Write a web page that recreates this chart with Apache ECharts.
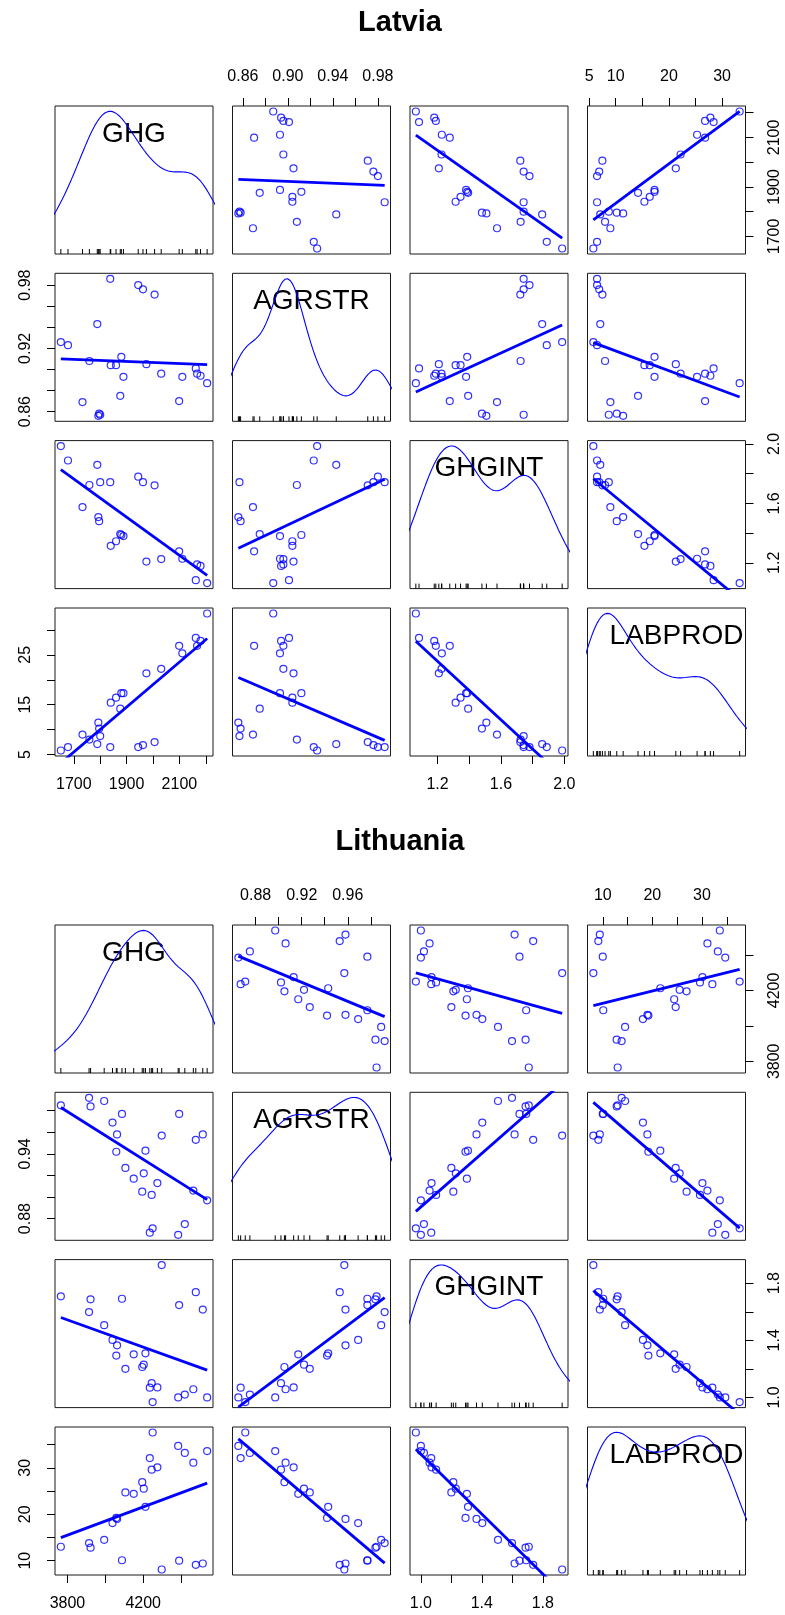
<!DOCTYPE html>
<html>
<head>
<meta charset="utf-8">
<title>Latvia / Lithuania scatterplot matrices</title>
<script src="https://cdn.jsdelivr.net/npm/echarts@6.0.0/dist/echarts.min.js"></script>
<style>
  html, body { margin: 0; padding: 0; background: #fff; }
  #chart { width: 785px; height: 1615px; }
</style>
</head>
<body>
<div id="chart"></div>
<script>
const varNames = ['GHG', 'AGRSTR', 'GHGINT', 'LABPROD'];

// Latvia, one value per year
const latviaGHG = [2205, 2180, 2162, 2167, 2111, 2099, 2031, 1975, 1888, 1880, 1860, 1840, 1876, 1793, 1796, 1800, 1789, 1838, 1944, 1962, 2006, 1759, 1733, 1678, 1651];
const latviaAGRSTR = [0.887, 0.894, 0.901, 0.896, 0.893, 0.870, 0.896, 0.905, 0.893, 0.912, 0.904, 0.904, 0.875, 0.856, 0.858, 0.857, 0.943, 0.986, 0.980, 0.976, 0.971, 0.908, 0.869, 0.923, 0.926];
const latviaGHGINT = [1.063, 1.179, 1.083, 1.189, 1.227, 1.277, 1.225, 1.208, 1.380, 1.387, 1.345, 1.314, 1.393, 1.508, 1.480, 1.743, 1.860, 1.743, 1.780, 1.743, 1.722, 1.724, 1.575, 1.889, 1.986];
const latviaLABPROD = [33.3, 27.8, 28.4, 26.8, 25.3, 26.8, 22.2, 21.3, 17.3, 17.3, 16.4, 15.4, 14.2, 11.4, 10.2, 8.7, 7.1, 6.5, 6.5, 6.9, 7.5, 8.0, 9.0, 6.5, 5.8];

// Lithuania
const lithuaniaGHG = [4250, 4385, 4420, 4538, 4465, 4235, 4245, 4275, 4195, 4203, 4106, 4150, 4212, 4058, 4062, 4038, 3994, 3914, 3922, 3765, 4088, 4390, 4298, 4478, 4515];
const lithuaniaAGRSTR = [0.871, 0.865, 0.875, 0.897, 0.906, 0.867, 0.902, 0.913, 0.905, 0.922, 0.927, 0.917, 0.943, 0.942, 0.958, 0.969, 0.989, 0.992, 0.984, 0.985, 0.977, 0.977, 0.957, 0.953, 0.958];
const lithuaniaGHGINT = [0.967, 1.000, 1.020, 1.000, 1.057, 1.068, 1.100, 1.070, 1.213, 1.229, 1.200, 1.302, 1.309, 1.293, 1.365, 1.403, 1.506, 1.598, 1.687, 1.708, 1.691, 1.647, 1.927, 1.737, 1.615];
const lithuaniaLABPROD = [37.6, 34.7, 33.2, 33.6, 31.1, 32.1, 29.6, 30.1, 26.9, 25.5, 24.7, 24.4, 21.6, 19.2, 19.0, 18.1, 14.5, 13.8, 12.8, 13.0, 10.1, 10.0, 8.1, 9.1, 9.4];

// axis ticks and the labels R kept (x = top/bottom side, y = left/right side)
const latviaGhgTicks = [1700, 1800, 1900, 2000, 2100, 2200];
const latviaGhgXLabels = [1700, 1900, 2100];
const latviaGhgYLabels = [1700, 1900, 2100];
const latviaAgrstrTicks = [0.86, 0.88, 0.90, 0.92, 0.94, 0.96, 0.98];
const latviaAgrstrXLabels = [0.86, 0.90, 0.94, 0.98];
const latviaAgrstrYLabels = [0.86, 0.92, 0.98];
const latviaGhgintTicks = [1.2, 1.4, 1.6, 1.8, 2.0];
const latviaGhgintXLabels = [1.2, 1.6, 2.0];
const latviaGhgintYLabels = [1.2, 1.6, 2.0];
const latviaLabprodTicks = [5, 10, 15, 20, 25, 30];
const latviaLabprodXLabels = [5, 10, 20, 30];
const latviaLabprodYLabels = [5, 15, 25];

const lithuaniaGhgTicks = [3800, 4000, 4200, 4400];
const lithuaniaGhgXLabels = [3800, 4200];
const lithuaniaGhgYLabels = [3800, 4200];
const lithuaniaAgrstrTicks = [0.88, 0.90, 0.92, 0.94, 0.96, 0.98];
const lithuaniaAgrstrXLabels = [0.88, 0.92, 0.96];
const lithuaniaAgrstrYLabels = [0.88, 0.94];
const lithuaniaGhgintTicks = [1.0, 1.2, 1.4, 1.6, 1.8];
const lithuaniaGhgintXLabels = [1.0, 1.4, 1.8];
const lithuaniaGhgintYLabels = [1.0, 1.4, 1.8];
const lithuaniaLabprodTicks = [10, 15, 20, 25, 30, 35];
const lithuaniaLabprodXLabels = [10, 20, 30];
const lithuaniaLabprodYLabels = [10, 20, 30];

const labelDecimals = [0, 2, 1, 0];

// layout
const FONT = '"Liberation Sans", Arial, sans-serif';
const BLUE = '#0000FF';
const colLeft = [55, 232.5, 410, 587.5];
const rowTop = [106, 273.3, 440.6, 608];
const panelW = 158, panelH = 148;
// the diagonal name in the last panel sits a little right of centre in the original
const diagLabelShift = [0, 0, 0, 10];

const grids = [], xAxes = [], yAxes = [], series = [], graphic = [];

function padRange(v) {
  const lo = Math.min(...v), hi = Math.max(...v);
  const d = (hi - lo) * 0.04;
  return [lo - d, hi + d];
}

function quantile(s, p) {
  const h = (s.length - 1) * p;
  const lo = Math.floor(h);
  const up = Math.min(lo + 1, s.length - 1);
  return s[lo] + (h - lo) * (s[up] - s[lo]);
}

// gaussian kernel density, bw.nrd0, scaled like car::scatterplotMatrix
function densityCurve(v) {
  const n = v.length;
  const mean = v.reduce((a, b) => a + b, 0) / n;
  const sd = Math.sqrt(v.reduce((a, b) => a + (b - mean) * (b - mean), 0) / (n - 1));
  const s = v.slice().sort((a, b) => a - b);
  const iqr = quantile(s, 0.75) - quantile(s, 0.25);
  const bw = 0.9 * Math.min(sd, iqr / 1.34) * Math.pow(n, -0.2);
  const lo = s[0] - 3 * bw, hi = s[n - 1] + 3 * bw;
  const pts = [];
  for (let k = 0; k < 512; k++) {
    const x = lo + (hi - lo) * k / 511;
    let d = 0;
    v.forEach(xi => { const z = (x - xi) / bw; d += Math.exp(-0.5 * z * z); });
    pts.push([x, d / (n * bw * Math.sqrt(2 * Math.PI))]);
  }
  const dMin = Math.min(...pts.map(p => p[1]));
  const dMax = Math.max(...pts.map(p => p[1]));
  const r = s[n - 1] - s[0];
  return pts.map(p => [p[0], s[0] + p[1] * r / (dMax - dMin)]);
}

function regLine(x, y) {
  const n = x.length;
  const mx = x.reduce((a, b) => a + b, 0) / n;
  const my = y.reduce((a, b) => a + b, 0) / n;
  let sxy = 0, sxx = 0;
  for (let k = 0; k < n; k++) { sxy += (x[k] - mx) * (y[k] - my); sxx += (x[k] - mx) * (x[k] - mx); }
  const b = sxy / sxx, a = my - b * mx;
  const x0 = Math.min(...x), x1 = Math.max(...x);
  return [[x0, a + b * x0], [x1, a + b * x1]];
}

function axisCfg(gi, range, spec, side, isX) {
  const on = side !== null;
  return {
    type: 'value', gridIndex: gi, min: range[0], max: range[1],
    position: side || (isX ? 'bottom' : 'left'),
    axisLine: { show: false },
    splitLine: { show: false },
    axisTick: { show: on, customValues: spec.ticks, length: 8, lineStyle: { color: '#000', width: 1 } },
    axisLabel: {
      show: on, customValues: isX ? spec.xLabels : spec.yLabels,
      rotate: isX ? 0 : 90, margin: 21, fontSize: 16, color: '#000', fontFamily: FONT,
      formatter: v => v.toFixed(spec.dec)
    }
  };
}

function buildMatrix(title, offsetY, data, specs) {
  graphic.push({
    type: 'text', x: 400, y: offsetY + 23,
    style: { text: title, font: 'bold 29px ' + FONT, fill: '#000', textAlign: 'center', textVerticalAlign: 'middle' }
  });
  for (let i = 0; i < 4; i++) {
    for (let j = 0; j < 4; j++) {
      const gi = grids.length;
      const top = offsetY + rowTop[i];
      grids.push({ left: colLeft[j], top: top, width: panelW, height: panelH, show: true, borderColor: '#1a1a1a', borderWidth: 1 });
      const xSide = (i === 3 && j % 2 === 0) ? 'bottom' : (i === 0 && j % 2 === 1) ? 'top' : null;
      const ySide = (j === 0 && i % 2 === 1) ? 'left' : (j === 3 && i % 2 === 0) ? 'right' : null;
      const xr = padRange(data[j]), yr = padRange(data[i]);
      xAxes.push(axisCfg(gi, xr, specs[j], xSide, true));
      yAxes.push(axisCfg(gi, yr, specs[i], ySide, false));
      if (i === j) {
        series.push({
          type: 'line', xAxisIndex: gi, yAxisIndex: gi, data: densityCurve(data[i]),
          showSymbol: false, symbol: 'none', clip: true, silent: true,
          lineStyle: { color: BLUE, width: 1.1 }
        });
        const yMin = yr[0];
        series.push({
          type: 'custom', xAxisIndex: gi, yAxisIndex: gi, silent: true,
          data: data[i].map(x => [x, yMin]),
          renderItem: (params, api) => {
            const p = api.coord([api.value(0), yMin]);
            return { type: 'line', shape: { x1: p[0], y1: p[1], x2: p[0], y2: p[1] - 5 }, style: { stroke: '#000', lineWidth: 1 } };
          }
        });
        graphic.push({
          type: 'text', x: colLeft[j] + panelW / 2 + diagLabelShift[i], y: top + 28,
          style: { text: varNames[i], font: '28px ' + FONT, fill: '#000', textAlign: 'center', textVerticalAlign: 'middle' }
        });
      } else {
        series.push({
          type: 'scatter', xAxisIndex: gi, yAxisIndex: gi, silent: true,
          data: data[j].map((x, k) => [x, data[i][k]]),
          symbol: 'circle', symbolSize: 7,
          itemStyle: { color: 'rgba(0,0,0,0)', borderColor: BLUE, borderWidth: 1.2 }
        });
        series.push({
          type: 'line', xAxisIndex: gi, yAxisIndex: gi, silent: true,
          data: regLine(data[j], data[i]), symbol: 'none', showSymbol: false,
          lineStyle: { color: BLUE, width: 2.8 }
        });
      }
    }
  }
}

buildMatrix('Latvia', 0,
  [latviaGHG, latviaAGRSTR, latviaGHGINT, latviaLABPROD],
  [
    { ticks: latviaGhgTicks, xLabels: latviaGhgXLabels, yLabels: latviaGhgYLabels, dec: labelDecimals[0] },
    { ticks: latviaAgrstrTicks, xLabels: latviaAgrstrXLabels, yLabels: latviaAgrstrYLabels, dec: labelDecimals[1] },
    { ticks: latviaGhgintTicks, xLabels: latviaGhgintXLabels, yLabels: latviaGhgintYLabels, dec: labelDecimals[2] },
    { ticks: latviaLabprodTicks, xLabels: latviaLabprodXLabels, yLabels: latviaLabprodYLabels, dec: labelDecimals[3] }
  ]);

buildMatrix('Lithuania', 819,
  [lithuaniaGHG, lithuaniaAGRSTR, lithuaniaGHGINT, lithuaniaLABPROD],
  [
    { ticks: lithuaniaGhgTicks, xLabels: lithuaniaGhgXLabels, yLabels: lithuaniaGhgYLabels, dec: labelDecimals[0] },
    { ticks: lithuaniaAgrstrTicks, xLabels: lithuaniaAgrstrXLabels, yLabels: lithuaniaAgrstrYLabels, dec: labelDecimals[1] },
    { ticks: lithuaniaGhgintTicks, xLabels: lithuaniaGhgintXLabels, yLabels: lithuaniaGhgintYLabels, dec: labelDecimals[2] },
    { ticks: lithuaniaLabprodTicks, xLabels: lithuaniaLabprodXLabels, yLabels: lithuaniaLabprodYLabels, dec: labelDecimals[3] }
  ]);

const chart = echarts.init(document.getElementById('chart'), null, { renderer: 'canvas' });
chart.setOption({
  animation: false,
  backgroundColor: '#fff',
  grid: grids,
  xAxis: xAxes,
  yAxis: yAxes,
  series: series,
  graphic: graphic
});
</script>
</body>
</html>
